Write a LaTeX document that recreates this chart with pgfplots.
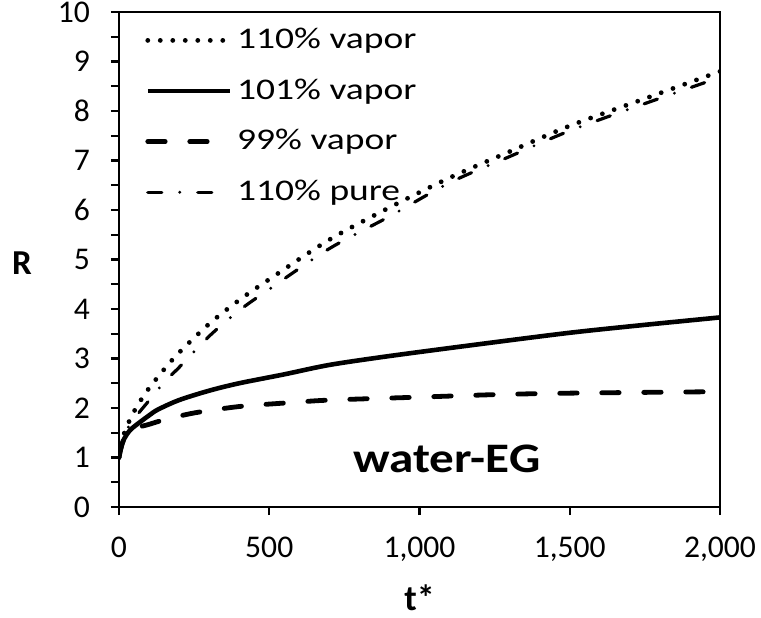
\documentclass[border=0pt]{standalone}
\usepackage{fontspec}
\setmainfont{Carlito}
\newfontfamily\legendfont[FakeStretch=1.25]{Carlito}
\newfontfamily\annfont[FakeStretch=1.17]{Carlito}
\usepackage{pgfplots}
\pgfplotsset{compat=1.18}
\begin{document}
\begin{tikzpicture}
\useasboundingbox (-59.5pt,-55pt) rectangle (321pt,253.5pt);
\begin{axis}[
  scale only axis, width=300.5pt, height=247.5pt,
  xmin=0, xmax=2000, ymin=0, ymax=10,
  xtick={0,500,1000,1500,2000}, ytick={0,1,...,10},
  minor ytick={0.5,1.5,...,9.5},
  tick pos=left, tick align=outside,
  major tick length=4pt, minor tick length=4pt,
  axis line style={line width=1.1pt},
  every tick/.style={line width=1.1pt, black},
  tick label style={font=\fontsize{15.8}{18}\selectfont},
  xticklabel style={yshift=-7.5pt},
  yticklabel style={xshift=-7pt},
  /pgf/number format/assume math mode=true,
  /pgf/number format/1000 sep={,},
  xlabel={\textbf{t*}}, ylabel={\textbf{R}},
  every axis x label/.style={at={(axis description cs:0.5,0)}, anchor=center, yshift=-45.5pt, font=\fontsize{18}{20}\selectfont},
  every axis y label/.style={at={(axis description cs:0,0.5)}, anchor=center, xshift=-48.5pt, yshift=-2pt, font=\fontsize{17.5}{20}\selectfont},
  legend cell align=left,
  legend style={draw=none, fill=none, at={(axis description cs:0,1)}, anchor=north west,
    xshift=10pt, yshift=-2.5pt, font=\fontsize{15}{18}\legendfont,
    nodes={inner sep=2.5pt, text height=11pt, text depth=3pt},
    row sep=6.3pt, column sep=0pt},
  legend image code/.code={\draw[#1] (0pt,0pt) -- (41pt,0pt);},
]
\addplot[black, line width=2.4pt, line cap=round, dash pattern=on 0pt off 6.25pt, smooth, tension=0.5] coordinates {
(0,1.0) (5,1.22) (15,1.45) (30,1.68) (50,1.93) (75,2.18) (100,2.4) (150,2.78) (200,3.12) (300,3.7) (400,4.18) (500,4.6) (700,5.4) (900,6.05) (1100,6.65) (1300,7.18) (1500,7.7) (1750,8.25) (2000,8.8)};
\addlegendentry{110\% vapor}
\addplot[black, line width=2.3pt, smooth, tension=0.5] coordinates {
(0,1.0) (5,1.15) (15,1.35) (35,1.54) (60,1.67) (100,1.85) (130,1.97) (200,2.16) (300,2.35) (400,2.5) (550,2.68) (700,2.87) (900,3.05) (1200,3.29) (1500,3.52) (1750,3.68) (2000,3.83)};
\addlegendentry{101\% vapor}
\addplot[black, line width=2.4pt, line cap=round, dash pattern=on 8.7pt off 12.3pt, smooth, tension=0.5] coordinates {
(0,1.0) (5,1.15) (15,1.35) (35,1.5) (60,1.6) (100,1.67) (150,1.76) (250,1.9) (400,2.03) (550,2.1) (700,2.16) (1000,2.22) (1250,2.27) (1500,2.3) (2000,2.33)};
\addlegendentry{99\% vapor}
\addplot[black, line width=1.6pt, line cap=round, dash pattern=on 7pt off 9pt on 0pt off 9pt, smooth, tension=0.5] coordinates {
(0,1.0) (5,1.2) (15,1.4) (30,1.6) (50,1.78) (75,1.97) (100,2.15) (150,2.52) (200,2.82) (300,3.45) (400,3.97) (500,4.4) (700,5.22) (900,5.87) (1100,6.55) (1300,7.08) (1500,7.6) (1750,8.15) (2000,8.68)};
\addlegendentry{110\% pure}
\node[font=\fontsize{21}{24}\annfont\bfseries, anchor=base] at (axis cs:1091,0.69) {water-EG};
\end{axis}
\end{tikzpicture}
\end{document}
